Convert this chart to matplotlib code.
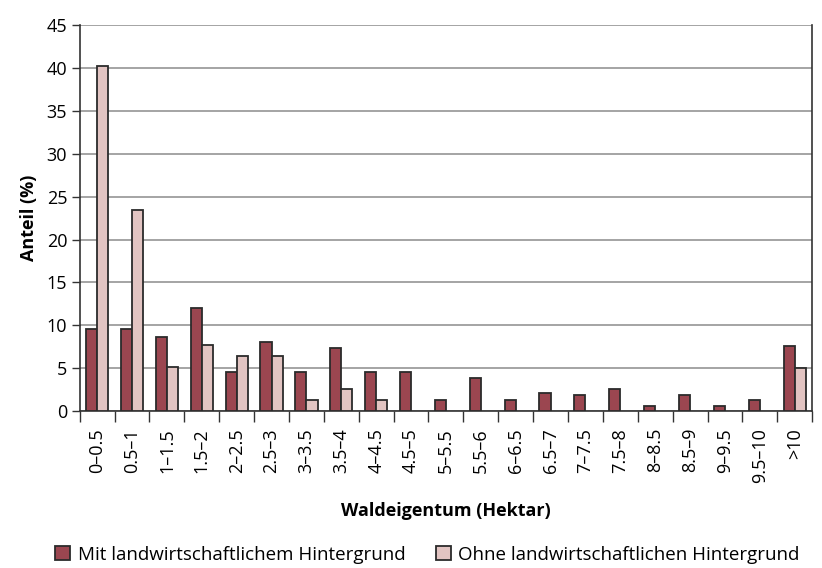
import matplotlib.pyplot as plt
import numpy as np

plt.rcParams['font.family'] = ['Open Sans', 'DejaVu Sans']

categories = ["0–0.5", "0.5–1", "1–1.5", "1.5–2", "2–2.5", "2.5–3", "3–3.5", "3.5–4",
              "4–4.5", "4.5–5", "5–5.5", "5.5–6", "6–6.5", "6.5–7", "7–7.5", "7.5–8",
              "8–8.5", "8.5–9", "9–9.5", "9.5–10", ">10"]
mit_values = [9.6, 9.6, 8.7, 12.0, 4.6, 8.1, 4.6, 7.4, 4.6, 4.6, 1.3, 3.9, 1.3, 2.1,
              1.9, 2.6, 0.6, 1.9, 0.6, 1.3, 7.6]
ohne_values = [40.2, 23.4, 5.1, 7.7, 6.4, 6.4, 1.3, 2.6, 1.3, 0, 0, 0, 0, 0,
               0, 0, 0, 0, 0, 0, 5.0]
yticks = list(range(0, 50, 5))

fig = plt.figure(figsize=(8.22, 5.68), dpi=100)
ax = fig.add_axes([0.097, 0.276, 0.891, 0.680])

x = np.arange(len(categories))
width = 0.32
mit = np.array(mit_values, dtype=float)
ohne = np.array(ohne_values, dtype=float)
# empty groups are not drawn at all in the original
mit[mit == 0] = np.nan
ohne[ohne == 0] = np.nan

ax.bar(x - width / 2, mit, width, color="#9b4650", edgecolor="#2b2b2b",
       linewidth=1.3, label="Mit landwirtschaftlichem Hintergrund", zorder=3)
ax.bar(x + width / 2, ohne, width, color="#e2c4c2", edgecolor="#2b2b2b",
       linewidth=1.3, label="Ohne landwirtschaftlichen Hintergrund", zorder=3)

ax.set_xlim(-0.5, len(categories) - 0.5)
ax.set_ylim(0, 45)
ax.set_yticks(yticks)
ax.tick_params(axis="y", labelsize=13, length=6, width=1, color="#333333", pad=3)
ax.yaxis.grid(True, color="#8c8c8c", linewidth=1.1, zorder=0)

ax.set_xticks(x)
ax.set_xticklabels(categories, rotation=90, fontsize=13)
ax.set_xticks(np.arange(-0.5, len(categories)), minor=True)
ax.tick_params(axis="x", which="major", length=0, pad=12)
ax.tick_params(axis="x", which="minor", length=8, width=1, color="#333333")

ax.spines["top"].set_visible(False)
for side in ["left", "bottom", "right"]:
    ax.spines[side].set_color("#333333")
    ax.spines[side].set_linewidth(1.2)

ax.set_ylabel("Anteil (%)", fontsize=13, fontweight="bold", labelpad=6)
ax.set_xlabel("Waldeigentum (Hektar)", fontsize=13, fontweight="bold", labelpad=14)

fig.legend(loc="lower center", bbox_to_anchor=(0.52, -0.022), ncol=2, frameon=False,
           fontsize=13.5, handlelength=0.8, handleheight=0.8, columnspacing=1.6,
           handletextpad=0.4)

plt.savefig("out.png", dpi=100)
